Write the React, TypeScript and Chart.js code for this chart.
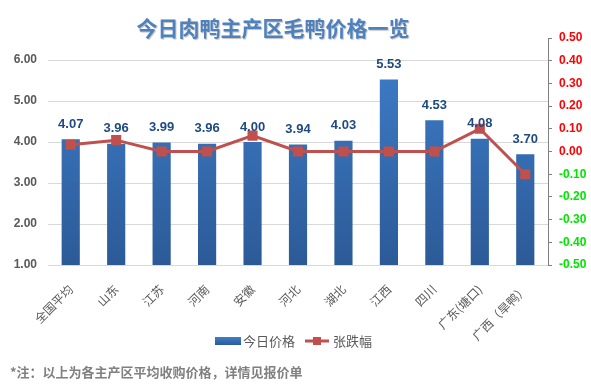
import React, { useEffect, useRef } from 'react';
import { Chart, registerables } from 'chart.js';
Chart.register(...registerables);

const titleText = '今日肉鸭主产区毛鸭价格一览';
const noteText = '*注：以上为各主产区平均收购价格，详情见报价单';
const categories = ['全国平均', '山东', '江苏', '河南', '安徽', '河北', '湖北', '江西', '四川', '广东(塘口)', '广西（旱鸭）'];
const prices = [4.07, 3.96, 3.99, 3.96, 4.0, 3.94, 4.03, 5.53, 4.53, 4.08, 3.7];
const changes = [0.03, 0.05, 0.0, 0.0, 0.07, 0.0, 0.0, 0.0, 0.0, 0.1, -0.1];
const leftTicks = [1, 2, 3, 4, 5, 6];
const rightTicks = [-0.5, -0.4, -0.3, -0.2, -0.1, 0, 0.1, 0.2, 0.3, 0.4, 0.5];
const seriesNames = ['今日价格', '张跌幅'];

const W = 591;
const H = 391;
const AREA = { left: 48, right: 548, top: 38, bottom: 265 };
const FONT = "'Liberation Sans', 'Noto Sans CJK SC', sans-serif";
const CJK = "'Noto Sans CJK SC', 'Liberation Sans', sans-serif";
const BAR_BLUE = '#3a78c4';
const LINE_RED = '#c0504d';

const decorPlugin = {
  id: 'decor',
  afterDatasetsDraw(chart: any) {
    const c = chart.ctx;
    const meta = chart.getDatasetMeta(0);
    c.save();
    c.font = `bold 13px ${FONT}`;
    c.fillStyle = '#1f4a80';
    c.textAlign = 'center';
    c.textBaseline = 'middle';
    meta.data.forEach((el: any, i: number) => {
      c.fillText(prices[i].toFixed(2), el.x, el.y - 15);
    });
    c.restore();
  },
  afterDraw(chart: any) {
    const c = chart.ctx;
    c.save();
    // title
    c.font = `bold 21px ${CJK}`;
    c.textAlign = 'center';
    c.textBaseline = 'middle';
    c.shadowColor = 'rgba(0,0,0,0.25)';
    c.shadowOffsetX = 1;
    c.shadowOffsetY = 1;
    c.shadowBlur = 1;
    c.fillStyle = '#4f81bd';
    c.fillText(titleText, 273, 28);
    c.shadowColor = 'transparent';
    // legend
    const ly = 341;
    const g = c.createLinearGradient(0, ly - 4, 0, ly + 4);
    g.addColorStop(0, '#3f7fcc');
    g.addColorStop(1, '#2c5a97');
    c.fillStyle = g;
    c.fillRect(215, ly - 4, 26, 8);
    c.font = `13px ${CJK}`;
    c.fillStyle = '#595959';
    c.textAlign = 'left';
    c.fillText(seriesNames[0], 243, ly);
    c.strokeStyle = LINE_RED;
    c.lineWidth = 3;
    c.beginPath();
    c.moveTo(305, ly);
    c.lineTo(329, ly);
    c.stroke();
    c.fillStyle = LINE_RED;
    c.fillRect(313, ly - 4, 8, 8);
    c.fillStyle = '#595959';
    c.fillText(seriesNames[1], 333, ly);
    // note
    c.font = `bold 13px ${CJK}`;
    c.fillStyle = '#808080';
    c.fillText(noteText, 10, 372);
    c.restore();
  },
};

export default function App() {
  const ref = useRef<HTMLCanvasElement>(null);
  useEffect(() => {
    if (!ref.current) return;
    const chart = new Chart(ref.current, {
      type: 'bar',
      data: {
        labels: categories,
        datasets: [
          {
            type: 'bar',
            label: seriesNames[0],
            data: prices,
            yAxisID: 'y',
            order: 2,
            barPercentage: 0.4,
            categoryPercentage: 1,
            backgroundColor: (ctx: any) => {
              const ch = ctx.chart;
              const area = ch.chartArea;
              if (!area) return BAR_BLUE;
              const g = ch.ctx.createLinearGradient(0, area.top, 0, area.bottom);
              g.addColorStop(0, '#3f7fcc');
              g.addColorStop(1, '#2c5a97');
              return g;
            },
          } as any,
          {
            type: 'line',
            label: seriesNames[1],
            data: changes,
            yAxisID: 'y1',
            order: 1,
            borderColor: LINE_RED,
            borderWidth: 3,
            pointStyle: 'rect',
            pointRadius: 5,
            pointBackgroundColor: LINE_RED,
            pointBorderColor: LINE_RED,
            tension: 0,
          } as any,
        ],
      },
      options: {
        responsive: false,
        animation: false,
        devicePixelRatio: 1,
        layout: { padding: { top: AREA.top, left: 0, right: 0, bottom: 0 } },
        plugins: {
          legend: { display: false },
          title: { display: false },
          tooltip: { enabled: false },
        },
        scales: {
          x: {
            grid: { display: false },
            border: { display: false },
            ticks: {
              color: '#595959',
              font: { family: CJK, size: 12 },
              maxRotation: 45,
              minRotation: 45,
              autoSkip: false,
              padding: 9,
            },
            afterFit: (s: any) => {
              s.height = H - AREA.bottom;
            },
          },
          y: {
            position: 'left',
            min: 1,
            max: 6.54,
            afterBuildTicks: (s: any) => {
              s.ticks = leftTicks.map((v) => ({ value: v }));
            },
            grid: { color: '#d9d9d9', drawTicks: false, lineWidth: 1 },
            border: { display: false },
            ticks: {
              color: '#595959',
              font: { family: FONT, size: 12, weight: 'bold' },
              padding: 11,
              callback: (v: any) => Number(v).toFixed(2),
            },
            afterFit: (s: any) => {
              s.width = AREA.left;
            },
          },
          y1: {
            position: 'right',
            min: -0.5,
            max: 0.5,
            afterBuildTicks: (s: any) => {
              s.ticks = rightTicks.map((v) => ({ value: v }));
            },
            grid: { drawOnChartArea: false, drawTicks: true, tickLength: 4, color: '#808080' },
            border: { display: true, color: '#808080', width: 1 },
            ticks: {
              color: (ctx: any) => (ctx.tick && ctx.tick.value < -1e-9 ? '#00e400' : '#ff0000'),
              font: { family: FONT, size: 12, weight: 'bold' },
              padding: 7,
              callback: (v: any) => Number(v).toFixed(2),
            },
            afterFit: (s: any) => {
              s.width = W - AREA.right;
            },
          },
        },
      } as any,
      plugins: [decorPlugin],
    });
    return () => chart.destroy();
  }, []);
  return (
    <div style={{ position: 'absolute', left: 0, top: 0, width: W, height: H, background: '#fff' }}>
      <canvas ref={ref} width={W} height={H} style={{ width: W, height: H, display: 'block' }} />
    </div>
  );
}
